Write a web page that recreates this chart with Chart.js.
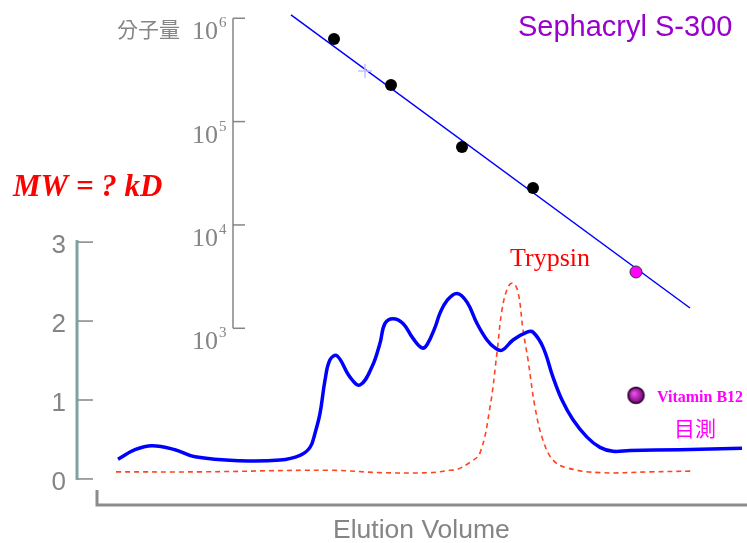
<!DOCTYPE html>
<html>
<head>
<meta charset="utf-8">
<script src="https://cdn.jsdelivr.net/npm/chart.js@4/dist/chart.umd.min.js"></script>
<style>
  html, body { margin: 0; padding: 0; background: #fff; }
</style>
</head>
<body>
<canvas id="c" width="747" height="543"></canvas>
<script>
// elution profile (absorbance), x = elution volume
const profileX = [4.4, 7.8, 11.2, 15.8, 19.8, 28.8, 36.8, 40.8, 42.8, 43.8, 44.8, 45.8, 46.8, 48.2, 50.8, 52.8, 55.2,
  56.8, 57.8, 59.4, 61.4, 63.4, 65.2, 66.2, 67.8, 68.8, 70.2, 72.2, 74.2, 76.2, 78.2, 79.8, 81.2, 83.4, 86.2, 87.4,
  89.4, 91.4, 93.2, 95.4, 98.2, 100.8, 103.4, 106.8, 116.8, 129.2];
const profileY = [0.25, 0.37, 0.42, 0.37, 0.28, 0.23, 0.24, 0.30, 0.40, 0.58, 0.83, 1.25, 1.51, 1.56, 1.29, 1.19, 1.42,
  1.72, 1.97, 2.03, 1.97, 1.78, 1.66, 1.70, 1.92, 2.10, 2.26, 2.35, 2.24, 1.97, 1.76, 1.66, 1.63, 1.76, 1.86, 1.86,
  1.67, 1.29, 1.00, 0.75, 0.53, 0.40, 0.35, 0.36, 0.37, 0.39];

// trypsin (dashed)
const trypsinX = [4, 20.8, 46.8, 56.8, 66.8, 70.8, 72.2, 74.8, 76.8, 78.8, 80.2, 81.2, 82.4, 83.4, 84.4, 85.4, 86.4,
  87.8, 89.4, 91.4, 94.2, 100.8, 110.8, 119.2];
const trypsinY = [0.09, 0.09, 0.11, 0.08, 0.08, 0.11, 0.12, 0.21, 0.33, 0.91, 1.6, 2.14, 2.43, 2.48, 2.37, 1.89, 1.51,
  0.91, 0.49, 0.24, 0.14, 0.08, 0.09, 0.10];

// calibration (molecular weight, log scale)
const stdX = [47.6, 59, 73.2, 87.4];
const stdMW = [631000, 226000, 56900, 22800];
const crossX = [53.8];
const crossMW = [309000];
const fitX = [39, 118.8];
const fitMW = [1077000, 1572];
const targetX = [108];
const targetMW = [3508];
const vitaminX = [108];
const vitaminY = [1.06];

const absTicks = [0, 1, 2, 3];
const mwTicks = [1e3, 1e4, 1e5, 1e6];
const mwExp = ['3', '4', '5', '6'];

const GRAY = '#858585';
const SANS = '"Liberation Sans", Arial, sans-serif';
const SERIF = '"Liberation Serif", "Times New Roman", serif';
const CJK = '"Noto Sans CJK TC", "Noto Sans CJK JP", sans-serif';

function pts(xs, ys) {
  return xs.map((v, i) => ({ x: v, y: ys[i] }));
}

// little purple ball for vitamin B12
function sphere(r) {
  const c = document.createElement('canvas');
  const s = r * 2 + 3;
  c.width = c.height = s;
  const g = c.getContext('2d');
  const grad = g.createRadialGradient(s / 2 - 2, s / 2 - 2, 1, s / 2, s / 2, r);
  grad.addColorStop(0, '#e050e0');
  grad.addColorStop(1, '#7a007a');
  g.fillStyle = grad;
  g.beginPath();
  g.arc(s / 2, s / 2, r, 0, Math.PI * 2);
  g.fill();
  g.strokeStyle = '#220022';
  g.lineWidth = 1.5;
  g.stroke();
  return c;
}

const axesPlugin = {
  id: 'axes',
  beforeDatasetsDraw(chart) {
    const { ctx, chartArea: a, scales } = chart;
    const x = scales.x, y = scales.y, mw = scales.mw;
    ctx.save();

    // elution volume axis
    ctx.strokeStyle = '#8c8c8c';
    ctx.lineWidth = 3;
    ctx.beginPath();
    ctx.moveTo(a.left + 1, a.bottom - 15);
    ctx.lineTo(a.left + 1, a.bottom);
    ctx.lineTo(a.right + 2, a.bottom);
    ctx.stroke();

    // absorbance axis (left of the plot)
    const ax = a.left - 19;
    ctx.strokeStyle = '#7fa1a1';
    ctx.lineWidth = 3;
    ctx.beginPath();
    ctx.moveTo(ax, y.getPixelForValue(0) + 1);
    ctx.lineTo(ax, y.getPixelForValue(3) - 2);
    ctx.stroke();
    ctx.strokeStyle = GRAY;
    ctx.lineWidth = 1.5;
    ctx.fillStyle = GRAY;
    ctx.font = '26px ' + SANS;
    ctx.textAlign = 'right';
    ctx.textBaseline = 'middle';
    absTicks.forEach(t => {
      const py = y.getPixelForValue(t);
      ctx.beginPath();
      ctx.moveTo(ax + 1, py);
      ctx.lineTo(ax + 16, py);
      ctx.stroke();
      ctx.fillText(String(t), ax - 11, py + 4);
    });

    // molecular weight axis (inset)
    const mx = x.getPixelForValue(27.4);
    ctx.strokeStyle = GRAY;
    ctx.lineWidth = 1.5;
    ctx.beginPath();
    ctx.moveTo(mx, mw.getPixelForValue(1e6));
    ctx.lineTo(mx, mw.getPixelForValue(1e3));
    ctx.stroke();
    ctx.textBaseline = 'alphabetic';
    mwTicks.forEach((t, i) => {
      const py = mw.getPixelForValue(t);
      ctx.beginPath();
      ctx.moveTo(mx, py);
      ctx.lineTo(mx + 12, py);
      ctx.stroke();
      ctx.textAlign = 'right';
      ctx.font = '26px ' + SERIF;
      ctx.fillText('10', mx - 15, py + 21);
      ctx.textAlign = 'left';
      ctx.font = '15px ' + SERIF;
      ctx.fillText(mwExp[i], mx - 14, py + 9);
    });
    ctx.textAlign = 'right';
    ctx.textBaseline = 'middle';
    ctx.font = '21px ' + CJK;
    ctx.fillText('分子量', mx - 53, mw.getPixelForValue(1e6) + 11);
    ctx.restore();
  },
  afterDraw(chart) {
    const ctx = chart.ctx;
    ctx.save();
    ctx.textBaseline = 'alphabetic';
    ctx.textAlign = 'left';

    ctx.fillStyle = '#9900cc';
    ctx.font = '29px ' + SANS;
    ctx.fillText('Sephacryl S-300', 518, 36);

    ctx.fillStyle = '#ff0000';
    ctx.font = 'italic bold 31px ' + SERIF;
    ctx.fillText('MW = ? kD', 13, 196);

    ctx.font = '26px ' + SERIF;
    ctx.fillText('Trypsin', 510, 266);

    ctx.fillStyle = '#ff00ff';
    ctx.font = 'bold 16px ' + SERIF;
    ctx.fillText('Vitamin B12', 657, 402);
    ctx.textBaseline = 'middle';
    ctx.font = '21px ' + CJK;
    ctx.fillText('目測', 674, 428);

    ctx.fillStyle = GRAY;
    ctx.textBaseline = 'alphabetic';
    ctx.font = '26.5px ' + SANS;
    ctx.fillText('Elution Volume', 333, 538);
    ctx.restore();
  }
};

new Chart(document.getElementById('c'), {
  type: 'line',
  data: {
    datasets: [
      {
        data: pts(vitaminX, vitaminY), yAxisID: 'y', showLine: false,
        pointStyle: sphere(8), pointRadius: 8
      },
      {
        data: pts(targetX, targetMW), yAxisID: 'mw', showLine: false,
        pointRadius: 6, pointBackgroundColor: '#ff00ff', pointBorderColor: '#333', pointBorderWidth: 1
      },
      {
        data: pts(stdX, stdMW), yAxisID: 'mw', showLine: false,
        pointRadius: 6, pointBackgroundColor: '#000', pointBorderColor: '#000', pointBorderWidth: 0
      },
      {
        data: pts(crossX, crossMW), yAxisID: 'mw', showLine: false,
        pointStyle: 'cross', pointRadius: 7, pointBorderColor: '#c4c4ff', pointBorderWidth: 1.5
      },
      {
        data: pts(fitX, fitMW), yAxisID: 'mw',
        borderColor: '#0000ff', borderWidth: 1.5, pointRadius: 0
      },
      {
        data: pts(profileX, profileY), yAxisID: 'y',
        borderColor: '#0000ff', borderWidth: 3.5, pointRadius: 0,
        tension: 0.4
      },
      {
        data: pts(trypsinX, trypsinY), yAxisID: 'y',
        borderColor: '#ff4422', borderWidth: 1.6, borderDash: [5, 4], pointRadius: 0,
        tension: 0.4
      }
    ]
  },
  options: {
    responsive: false,
    animation: false,
    events: [],
    layout: { autoPadding: false, padding: { left: 96, right: 1, top: 10, bottom: 38 } },
    scales: {
      x: { type: 'linear', min: 0, max: 130, display: false },
      y: { type: 'linear', min: -0.33, max: 5.94, display: false },
      mw: { type: 'logarithmic', min: 19.5, max: 1202000, display: false }
    },
    plugins: { legend: { display: false }, tooltip: { enabled: false } }
  },
  plugins: [axesPlugin]
});
</script>
</body>
</html>
